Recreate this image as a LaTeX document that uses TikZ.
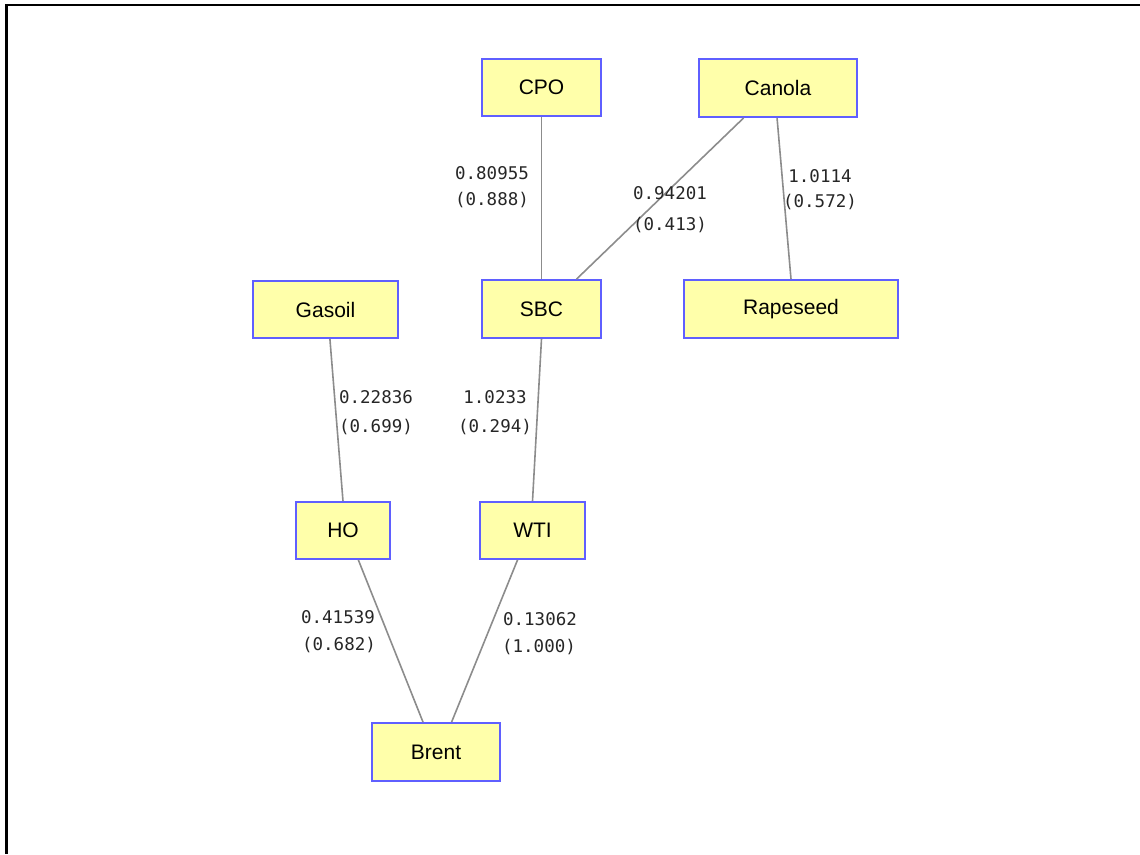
\documentclass[tikz,border=0pt]{standalone}
\usepackage{fontspec}
\setmainfont{Liberation Sans}
\newfontfamily\labmono{DejaVu Sans Mono}
\usetikzlibrary{calc}
\definecolor{boxfill}{RGB}{255,255,170}
\definecolor{boxline}{RGB}{95,95,255}
\definecolor{edgegray}{RGB}{140,140,140}
\tikzset{
  vbox/.style={draw=boxline, fill=boxfill, line width=1.8pt, inner sep=0pt,
    font=\fontsize{21}{25}\selectfont, text=black},
  edge/.style={draw=edgegray, line width=1.6pt},
  lab/.style={font=\labmono\fontsize{17.5}{20}\selectfont, text=black!85, inner sep=0pt},
  frameline/.style={draw=black}
}
\begin{document}
\begin{tikzpicture}[x=1pt,y=-1pt]
\useasboundingbox (0,0) rectangle (1140,854);
% frame
\coordinate (ftl) at (6.5,5);
\coordinate (ftr) at (1140,5);
\coordinate (fbl) at (6.5,854);
\draw[frameline, line width=1.5pt] (ftl) -- (ftr);
\draw[frameline, line width=2.5pt] ($(ftl)+(0,-1)$) -- (fbl);
\draw[frameline, line width=2.5pt] (ftl) -- ($(ftl)+(14,0)$);
\draw[frameline, line width=2.5pt] ($(ftr)+(-12,0)$) -- (ftr);
% nodes
\node[vbox, minimum width=119pt, minimum height=57pt] (CPO) at (541.5,87.5) {CPO};
\node[vbox, minimum width=158pt, minimum height=58pt] (Canola) at (778,88) {Canola};
\node[vbox, minimum width=119pt, minimum height=58pt] (SBC) at (541.5,309) {SBC};
\node[vbox, minimum width=214pt, minimum height=58pt] (Rapeseed) at (791,309) {Rapeseed};
\node[vbox, minimum width=145pt, minimum height=57pt] (Gasoil) at (325.5,309.5) {Gasoil};
\node[vbox, minimum width=94pt, minimum height=57pt] (HO) at (343,530.5) {HO};
\node[vbox, minimum width=105pt, minimum height=57pt] (WTI) at (532.5,530.5) {WTI};
\node[vbox, minimum width=128pt, minimum height=58pt] (Brent) at (436,752) {Brent};
% edges
\draw[edge] (CPO.south) -- (SBC.north);
\draw[edge] ($(Canola.south west)!0.285!(Canola.south east)$) -- ($(SBC.north west)!0.79!(SBC.north east)$);
\draw[edge] ($(Canola.south west)!0.494!(Canola.south east)$) -- (Rapeseed.north);
\draw[edge] ($(Gasoil.south west)!0.53!(Gasoil.south east)$) -- (HO.north);
\draw[edge] (SBC.south) -- (WTI.north);
\draw[edge] ($(HO.south west)!0.66!(HO.south east)$) -- ($(Brent.north west)!0.40!(Brent.north east)$);
\draw[edge] ($(WTI.south west)!0.36!(WTI.south east)$) -- ($(Brent.north west)!0.62!(Brent.north east)$);
% labels
\node[lab] (l1a) at (492,173) {0.80955};
\node[lab] (l1b) at (492,200) {(0.888)};
\node[lab] (l2a) at (670,193) {0.94201};
\node[lab] (l2b) at (670,225) {(0.413)};
\node[lab] (l3a) at (820,176) {1.0114};
\node[lab] (l3b) at (820,202) {(0.572)};
\node[lab] (l4a) at (376,397) {0.22836};
\node[lab] (l4b) at (376,427) {(0.699)};
\node[lab] (l5a) at (495,397) {1.0233};
\node[lab] (l5b) at (495,427) {(0.294)};
\node[lab] (l6a) at (338,617.5) {0.41539};
\node[lab] (l6b) at (339,645) {(0.682)};
\node[lab] (l7a) at (540,619.5) {0.13062};
\node[lab] (l7b) at (539,647) {(1.000)};
\end{tikzpicture}
\end{document}
